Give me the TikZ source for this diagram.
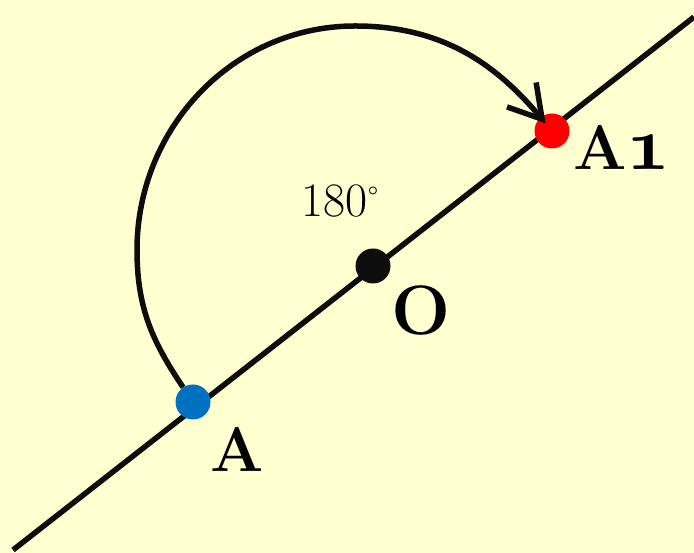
\RequirePackage{fix-cm}
\documentclass[tikz,border=0pt]{standalone}
\usepackage{fontspec}
\usetikzlibrary{arrows.meta}
\definecolor{bg}{HTML}{FFFFD0}
\definecolor{ptblue}{HTML}{0070C0}
\definecolor{ptred}{HTML}{FF0000}
\definecolor{ink}{HTML}{0D0D0D}
\newcommand{\onum}[1]{{\fontsize{76}{76}\usefont{OML}{cmm}{b}{it}#1}}

\begin{document}
\begin{tikzpicture}[
  x=1pt,y=1pt,
  dot/.style={circle,inner sep=0pt,minimum size=35pt},
  lbl/.style={font=\fontsize{63}{63}\selectfont\bfseries,anchor=base,inner sep=0pt},
  arr/.style={-{Straight Barb[length=32pt,width=38pt]},line width=5.5pt,ink}
]
  \fill[bg] (0,0) rectangle (694,553);
  \useasboundingbox (0,0) rectangle (694,553);

  \coordinate (L1) at (13,3);
  \coordinate (L2) at (694,536);
  \draw[line width=5.5pt,ink] (L1) -- (L2);

  \node[dot,fill=ptblue] (A)  at (193,151) {};
  \node[dot,fill=ink]    (O)  at (373,287) {};
  \node[dot,fill=ptred]  (A1) at (552,422) {};

  \coordinate (arcL) at (137,303);
  \coordinate (arcT) at (355,527);
  \draw[arr,shorten >=10pt] (A) to[out=124,in=270] (arcL) to[out=90,in=180] (arcT) to[out=0,in=130] (A1.center);

  \node[font=\fontsize{48}{48}\selectfont,anchor=base,inner sep=0pt] (deg) at (340,336) {180\raisebox{9pt}{\fontsize{30}{30}\selectfont °}};
  \node[lbl] (lblA)  at (237,81)  {A};
  \node[lbl,font=\fontsize{70}{70}\selectfont\bfseries] (lblO) at (421,218) {O};
  \node[lbl] (lblA1) at (622,383) {A\onum{1}};
\end{tikzpicture}
\end{document}
